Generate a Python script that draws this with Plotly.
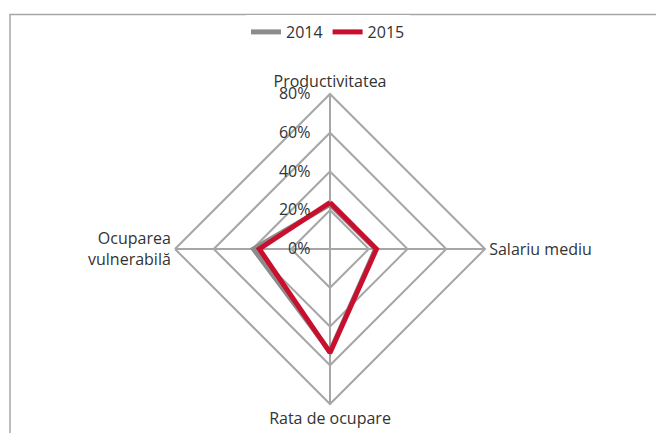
import plotly.graph_objects as go

categories = ["Productivitatea", "Salariu mediu", "Rata de ocupare", "Ocuparea<br>vulnerabilă"]
values_2014 = [23, 23.5, 53, 39.5]
values_2015 = [24, 24, 53.5, 36.5]
radial_ticks = [0, 20, 40, 60, 80]
radial_tick_labels = ["0%", "20%", "40%", "60%", "80%"]

W, H = 656, 433
cx, cy, R = 330, 249, 155

def closed(v):
    return list(v) + [v[0]]

pad = "&nbsp;" * 4

fig = go.Figure()
fig.add_trace(go.Scatterpolar(
    r=closed(values_2014), theta=closed(categories), name="2014",
    mode="lines", line=dict(color="#8C8C8C", width=5)))
fig.add_trace(go.Scatterpolar(
    r=closed(values_2015), theta=closed(categories), name="2015",
    mode="lines", line=dict(color="#C8102E", width=5)))

grid = "#A6A6A6"
fig.update_layout(
    width=W, height=H,
    margin=dict(l=0, r=0, t=0, b=0),
    paper_bgcolor="white",
    font=dict(family="Open Sans, Noto Sans, sans-serif", size=16, color="#333333"),
    showlegend=True,
    legend=dict(orientation="h", x=0.5, xanchor="center", y=1 - 32 / H, yanchor="middle",
                font=dict(size=16), tracegroupgap=0),
    polar=dict(
        domain=dict(x=[(cx - R) / W, (cx + R) / W], y=[(H - cy - R) / H, (H - cy + R) / H]),
        bgcolor="white",
        gridshape="linear",
        angularaxis=dict(rotation=90, direction="clockwise", linecolor=grid, linewidth=2,
                         gridcolor=grid, gridwidth=2, showline=True, ticks="",
                         tickfont=dict(size=16, color="#333333")),
        radialaxis=dict(range=[0, 80], tickmode="array", tickvals=radial_ticks,
                        ticktext=[t + pad for t in radial_tick_labels], angle=90,
                        tickangle=90, side="counterclockwise", showline=False,
                        gridcolor=grid, gridwidth=2, ticks="",
                        tickfont=dict(size=16, color="#333333")),
    ),
    shapes=[dict(type="rect", xref="paper", yref="paper",
                 x0=10 / W, x1=1.05, y0=-0.05, y1=1 - 14.5 / H,
                 line=dict(color="#A6A6A6", width=1.5), fillcolor="rgba(0,0,0,0)", layer="below")],
)

fig.write_html("out.html", config={"displayModeBar": False},
               post_script="document.body.style.margin='0';")
